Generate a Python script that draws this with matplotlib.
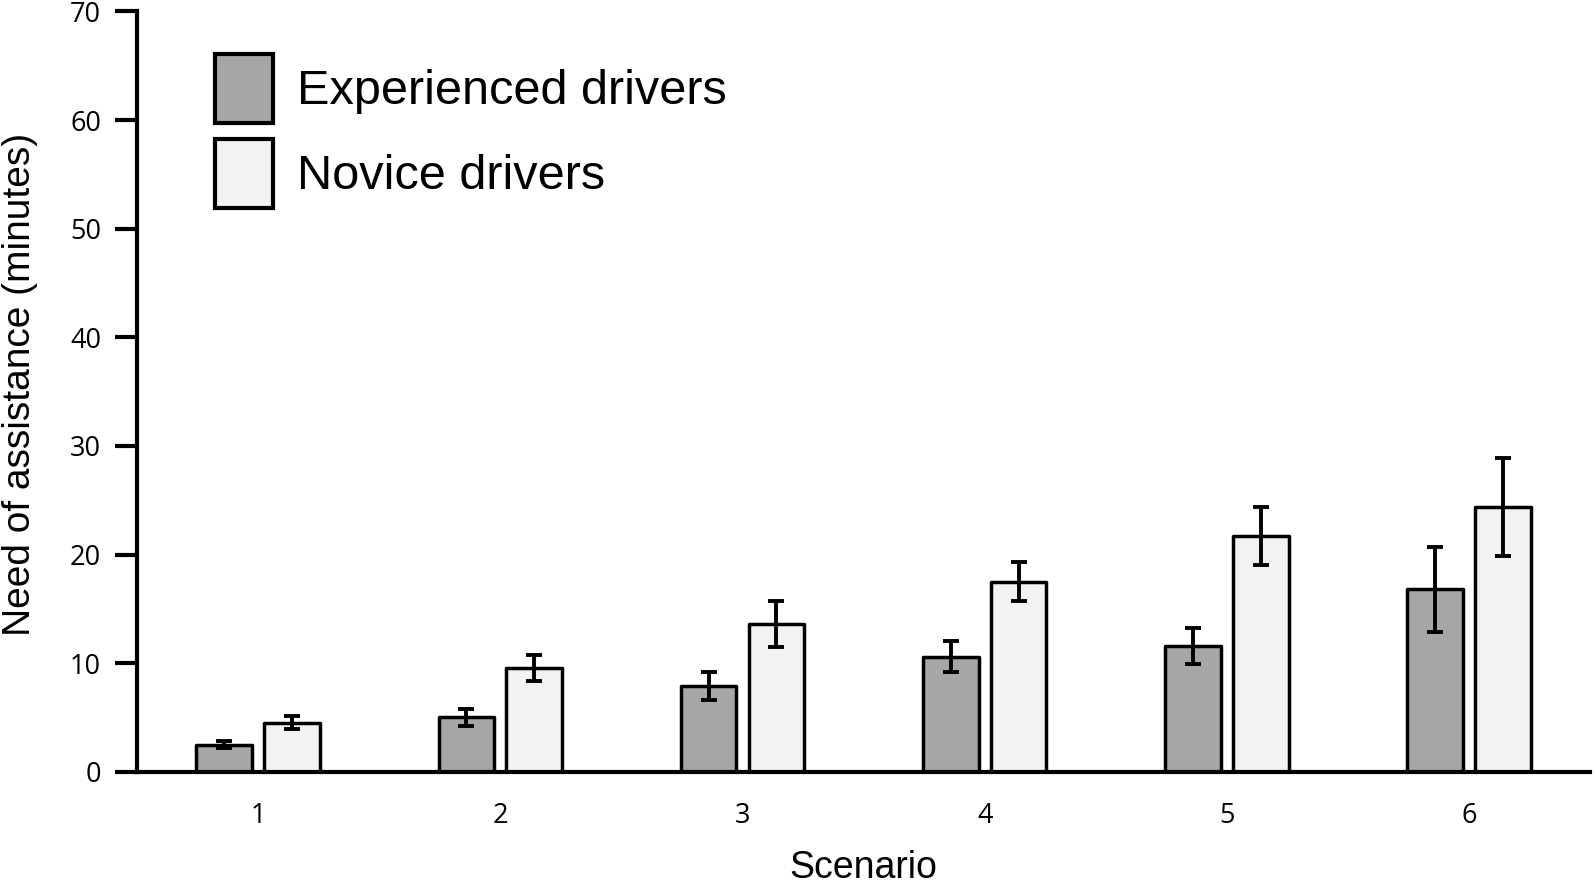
import numpy as np
import matplotlib.pyplot as plt

scenarios = ['1', '2', '3', '4', '5', '6']
experienced = [2.5, 5.0, 7.9, 10.6, 11.6, 16.8]
experienced_err = [0.3, 0.8, 1.3, 1.4, 1.65, 3.9]
novice = [4.5, 9.55, 13.6, 17.5, 21.7, 24.4]
novice_err = [0.6, 1.2, 2.1, 1.8, 2.7, 4.5]

fig = plt.figure(figsize=(15.94, 8.83), dpi=100)
ax = fig.add_axes([0.086, 0.126, 0.9115, 0.861])

x = np.arange(1, len(scenarios) + 1)
w = 0.23
off = 0.14

err_kw = dict(elinewidth=2.8, capthick=2.8, capsize=6, ecolor='black')
ax.bar(x - off, experienced, w, yerr=experienced_err, color='#a6a6a6',
       edgecolor='black', linewidth=2.5, label='Experienced drivers',
       error_kw=err_kw, joinstyle='round')
ax.bar(x + off, novice, w, yerr=novice_err, color='#f2f2f2',
       edgecolor='black', linewidth=2.5, label='Novice drivers',
       error_kw=err_kw, joinstyle='round')

ax.set_xlim(0.5, 6.5)
ax.set_ylim(0, 70)
ax.set_yticks(range(0, 71, 10))
ax.set_xticks(x)
ax.set_xticklabels(scenarios)

for s in ['top', 'right']:
    ax.spines[s].set_visible(False)
for s in ['left', 'bottom']:
    ax.spines[s].set_linewidth(3)

ax.tick_params(axis='y', length=16, width=3, pad=10, labelsize=19.5)
ax.tick_params(axis='x', length=0, pad=22, labelsize=19.5)
for lbl in ax.get_xticklabels() + ax.get_yticklabels():
    lbl.set_fontfamily('Open Sans')

ax.set_ylabel('Need of assistance (minutes)', fontsize=28, family='Liberation Sans')
ax.set_xlabel('Scenario', fontsize=27, family='Liberation Sans')
ax.yaxis.set_label_coords(-0.068, 0.51)
ax.xaxis.set_label_coords(0.5, -0.1025)

leg = ax.legend(loc='upper left', bbox_to_anchor=(215 / 1594, 1 - 54 / 883),
                bbox_transform=fig.transFigure, frameon=False,
                borderpad=0, borderaxespad=0,
                handlelength=1.2, handleheight=1.81, handletextpad=0.48,
                labelspacing=0.33,
                prop={'family': 'Liberation Sans', 'size': 35})
for h in leg.legend_handles:
    h.set_linewidth(3)

fig.savefig('out.png', dpi=100)
